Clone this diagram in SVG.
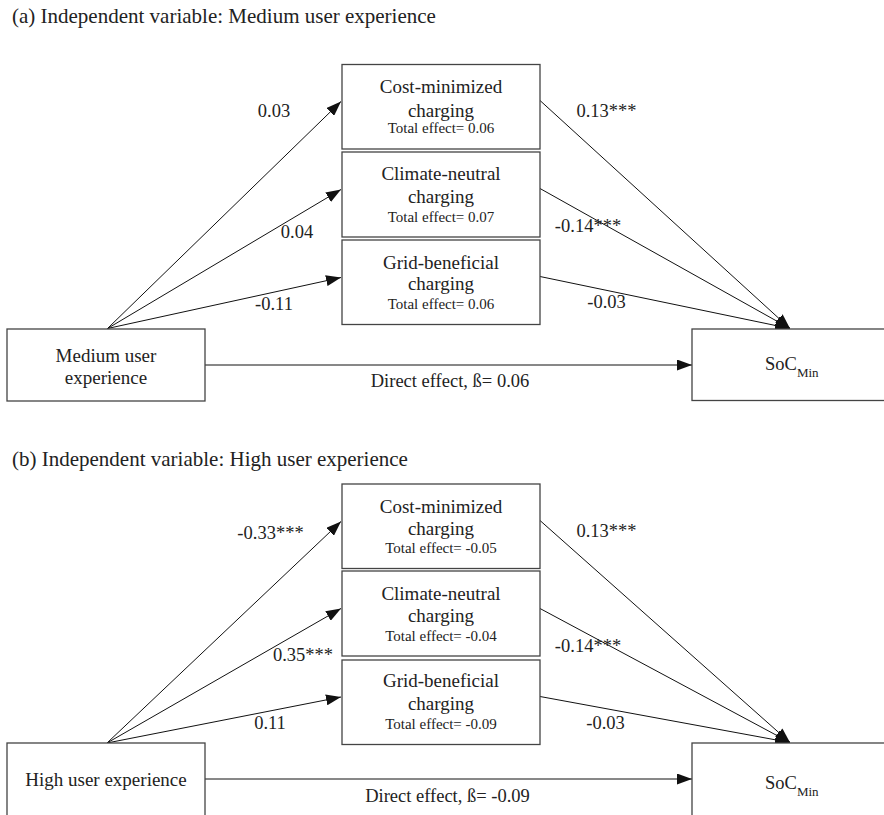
<svg xmlns="http://www.w3.org/2000/svg" width="884" height="815" viewBox="0 0 884 815">
<style>
text{font-family:"Liberation Serif","Times New Roman",serif;fill:#222}
.title{font-size:21px}
.box{fill:#fff;stroke:#444;stroke-width:1.3}
.bt{font-size:19px;text-anchor:middle}
.te{font-size:15px;text-anchor:middle}
.lb{font-size:18.5px;text-anchor:middle}
.ln{stroke:#111;stroke-width:1;fill:none;marker-end:url(#ah)}
</style>
<defs>
<marker id="ah" markerUnits="userSpaceOnUse" markerWidth="15" markerHeight="11" refX="15" refY="5.5" orient="auto">
<path d="M0,0 L15,5.5 L0,11 z" fill="#111"/>
</marker>
</defs>
<rect width="884" height="815" fill="#fff"/>
<text class="title" x="12" y="23">(a) Independent variable: Medium user experience</text>
<text class="title" x="12" y="466">(b) Independent variable: High user experience</text>

<g id="connectors">
<line class="ln" x1="107.5" y1="328.5" x2="341" y2="101.5"/>
<line class="ln" x1="107.5" y1="328.5" x2="341" y2="189.5"/>
<line class="ln" x1="107.5" y1="328.5" x2="341" y2="277.5"/>
<line class="ln" x1="540" y1="100.5" x2="790" y2="328.5"/>
<line class="ln" x1="540" y1="188.5" x2="790" y2="328.5"/>
<line class="ln" x1="540" y1="276.5" x2="790" y2="328.5"/>
<line class="ln" x1="205" y1="365" x2="692" y2="365"/>
<line class="ln" x1="107" y1="743" x2="341" y2="521.5"/>
<line class="ln" x1="107" y1="743" x2="341" y2="608.5"/>
<line class="ln" x1="107" y1="743" x2="341" y2="697"/>
<line class="ln" x1="540" y1="520.5" x2="790" y2="742.5"/>
<line class="ln" x1="540" y1="608.5" x2="790" y2="742.5"/>
<line class="ln" x1="540" y1="696.5" x2="790" y2="742.5"/>
<line class="ln" x1="205" y1="779" x2="692" y2="779"/>
<text class="lb" x="274" y="117">0.03</text>
<text class="lb" x="297" y="238">0.04</text>
<text class="lb" x="274" y="310">-0.11</text>
<text class="lb" x="606.5" y="117">0.13***</text>
<text class="lb" x="588" y="232">-0.14***</text>
<text class="lb" x="606.5" y="308">-0.03</text>
<text class="lb" x="450" y="387">Direct effect, ß= 0.06</text>
<text class="lb" x="270.5" y="538.5">-0.33***</text>
<text class="lb" x="303" y="661">0.35***</text>
<text class="lb" x="270" y="729">0.11</text>
<text class="lb" x="606.5" y="537">0.13***</text>
<text class="lb" x="588" y="652">-0.14***</text>
<text class="lb" x="605.5" y="728.5">-0.03</text>
<text class="lb" x="447.5" y="801.5">Direct effect, ß= -0.09</text>
</g>

<g id="a-cost">
<rect class="box" x="342" y="64.5" width="198" height="84.5"/>
<text class="bt" x="441" y="93">Cost-minimized</text>
<text class="bt" x="441" y="116.5">charging</text>
<text class="te" x="441" y="133">Total effect= 0.06</text>
</g>
<g id="a-climate">
<rect class="box" x="342" y="152" width="198" height="85"/>
<text class="bt" x="441" y="180">Climate-neutral</text>
<text class="bt" x="441" y="203">charging</text>
<text class="te" x="441" y="221.5">Total effect= 0.07</text>
</g>
<g id="a-grid">
<rect class="box" x="342" y="240" width="198" height="84.5"/>
<text class="bt" x="441" y="268.5">Grid-beneficial</text>
<text class="bt" x="441" y="290">charging</text>
<text class="te" x="441" y="308.5">Total effect= 0.06</text>
</g>
<g id="a-medium">
<rect class="box" x="7" y="329" width="198" height="72"/>
<text class="bt" x="106" y="361.5">Medium user</text>
<text class="bt" x="106" y="383.5">experience</text>
</g>
<g id="a-soc">
<rect class="box" x="692" y="329" width="200" height="71.5"/>
<text x="765" y="370" style="font-size:18.5px">SoC<tspan dy="7" style="font-size:13px">Min</tspan></text>
</g>

<g id="b-cost">
<rect class="box" x="342" y="484" width="198" height="84.5"/>
<text class="bt" x="441" y="512.5">Cost-minimized</text>
<text class="bt" x="441" y="534.5">charging</text>
<text class="te" x="441" y="553">Total effect= -0.05</text>
</g>
<g id="b-climate">
<rect class="box" x="342" y="571" width="198" height="85"/>
<text class="bt" x="441" y="600">Climate-neutral</text>
<text class="bt" x="441" y="621.5">charging</text>
<text class="te" x="441" y="641">Total effect= -0.04</text>
</g>
<g id="b-grid">
<rect class="box" x="342" y="660" width="198" height="84.5"/>
<text class="bt" x="441" y="687">Grid-beneficial</text>
<text class="bt" x="441" y="709.5">charging</text>
<text class="te" x="441" y="728.5">Total effect= -0.09</text>
</g>
<g id="b-high">
<rect class="box" x="7" y="743" width="198" height="80"/>
<text class="bt" x="106" y="786">High user experience</text>
</g>
<g id="b-soc">
<rect class="box" x="692" y="743" width="200" height="80"/>
<text x="765" y="789" style="font-size:18.5px">SoC<tspan dy="7" style="font-size:13px">Min</tspan></text>
</g>
</svg>
